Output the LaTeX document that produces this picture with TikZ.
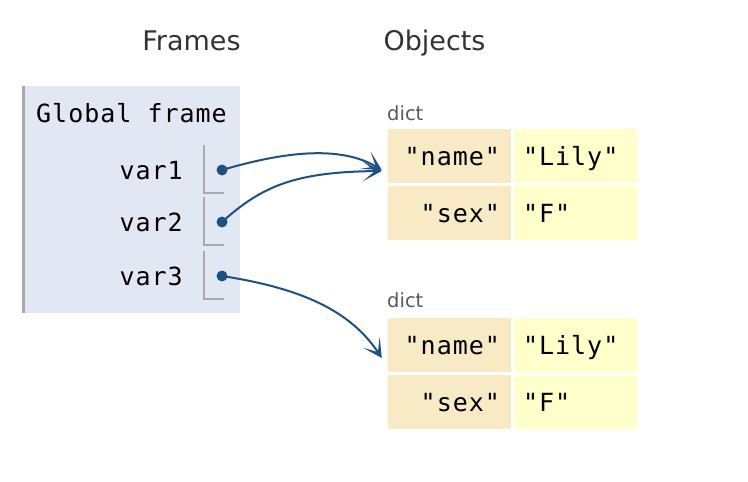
\documentclass[tikz,border=0pt]{standalone}
\usepackage{fontspec}
\setsansfont{DejaVu Sans}
\newfontfamily\codefont[LetterSpace=4]{DejaVu Sans Mono}
\usepackage{tikz}
\usetikzlibrary{calc,backgrounds}
\usetikzlibrary{arrows.meta}
\definecolor{framebg}{RGB}{226,232,243}
\definecolor{framebar}{RGB}{170,170,170}
\definecolor{ptrblue}{RGB}{30,80,130}
\definecolor{keybg}{RGB}{247,234,196}
\definecolor{valbg}{RGB}{255,255,204}
\tikzset{
	heading/.style={font=\sffamily\fontsize{27}{27}\selectfont, text=black!80, inner sep=0pt, anchor=base},
	mono/.style={font=\codefont\fontsize{25}{25}\selectfont, inner sep=0pt, text height=18.2pt, text depth=0pt},
	dictlabel/.style={font=\sffamily\fontsize{19.5}{19.5}\selectfont, text=black!65, inner sep=0pt, anchor=base west},
	dot/.style={circle, fill=ptrblue, inner sep=0pt, minimum size=11pt},
	keycell/.style={mono, fill=keybg, minimum height=54pt, inner xsep=11pt, text width=101pt, align=right},
	valcell/.style={mono, fill=valbg, minimum height=54pt, inner xsep=9pt, text width=105pt, align=left},
	ptr/.style={draw=ptrblue, line width=2pt, -{Stealth[length=19pt, width=20pt, inset=12pt]}},
}
\begin{document}
\begin{tikzpicture}[x=1pt,y=-1pt]
\useasboundingbox (0,0) rectangle (748,482);
\fill[framebg] (22,86) rectangle (240,313);
\draw[framebar, line width=2.5pt] (23.25,86) -- (23.25,313);
\node[heading] (frames) at (191.5,50) {Frames};
\node[heading] (objects) at (434.5,50) {Objects};
\node[mono, anchor=west] (gframe) at (36,113) {Global frame};
\foreach \i/\y in {1/170,2/222,3/276}{
	\node[mono, anchor=east] (var\i) at (183,\y) {var\i};
	\draw[framebar, line width=1.5pt] (204,\y-25) -- (204,\y+23) -- (224,\y+23);
	\node[dot] (p\i) at (222,\y) {};
}
\node[dictlabel] (dicta) at (387,120) {dict};
\node[keycell] (ka1) at (449.5,156) {"name"};
\node[valcell] (va1) at (575.5,156) {"Lily"};
\node[keycell] (ka2) at (449.5,213) {"sex"};
\node[valcell] (va2) at (575.5,213) {"F"};
\node[dictlabel] (dictb) at (387,307) {dict};
\node[keycell] (kb1) at (449.5,345) {"name"};
\node[valcell] (vb1) at (575.5,345) {"Lily"};
\node[keycell] (kb2) at (449.5,402) {"sex"};
\node[valcell] (vb2) at (575.5,402) {"F"};
\draw[ptr] (p1.center) .. controls (270,156) and (335,142) .. ([shift={(-6,14)}]ka1.west);
\draw[ptr] (p2.center) .. controls (262,186) and (295,172) .. ([shift={(-6,15)}]ka1.west);
\draw[ptr] (p3.center) .. controls (300,288) and (350,310) .. ([shift={(-6,13)}]kb1.west);
\end{tikzpicture}
\end{document}
